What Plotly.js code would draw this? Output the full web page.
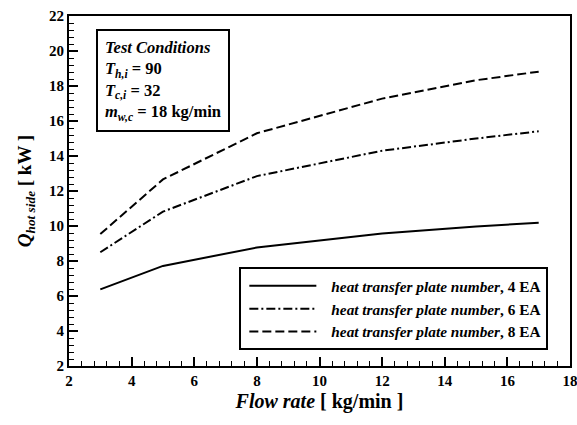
<!DOCTYPE html>
<html>
<head>
<meta charset="utf-8">
<script src="https://cdn.plot.ly/plotly-3.0.1.min.js"></script>
<style>html,body{margin:0;padding:0;background:#fff;}#chart{width:577px;height:425px;}</style>
</head>
<body>
<div id="chart"></div>
<script>
// Data
const flowRate = [3, 5, 8, 12, 15, 17];
const q4EA = [6.38, 7.72, 8.77, 9.57, 9.97, 10.19];
const q6EA = [8.5, 10.82, 12.85, 14.3, 15.0, 15.41];
const q8EA = [9.54, 12.66, 15.3, 17.28, 18.33, 18.82];
const seriesNames = [
  "<i>heat transfer plate number</i>, 4 EA",
  "<i>heat transfer plate number</i>, 6 EA",
  "<i>heat transfer plate number</i>, 8 EA"
];
const conditionsText = "<i>Test Conditions</i><br>" +
  "<i>T</i><sub><i>h,i</i></sub> = 90<br>" +
  "<i>T</i><sub><i>c,i</i></sub> = 32<br>" +
  "<i>m</i><sub><i>w,c</i></sub> = 18 kg/min";

const FONT = "Liberation Serif";

const traces = [
  {x: flowRate, y: q4EA, name: seriesNames[0], mode: "lines",
   line: {color: "#000", width: 2, dash: "solid"}},
  {x: flowRate, y: q6EA, name: seriesNames[1], mode: "lines",
   line: {color: "#000", width: 2, dash: "9px,3px,2px,3px"}},
  {x: flowRate, y: q8EA, name: seriesNames[2], mode: "lines",
   line: {color: "#000", width: 2, dash: "9px,4px"}}
];

const axisCommon = {
  showgrid: false, zeroline: false,
  showline: true, linecolor: "#000", linewidth: 2, mirror: true,
  ticks: "inside", ticklen: 9, tickwidth: 2, tickcolor: "#000",
  ticklabeloverflow: "allow",
  tickfont: {family: FONT, size: 15, color: "#000", weight: "bold"},
  minor: {ticks: "inside", ticklen: 5, tickwidth: 1, tickcolor: "#000", dtick: 0.4}
};

const layout = {
  width: 577, height: 425,
  margin: {l: 69, r: 7, t: 16, b: 59},
  paper_bgcolor: "#fff", plot_bgcolor: "#fff",
  font: {family: FONT, color: "#000", weight: "bold"},
  xaxis: Object.assign({}, axisCommon, {
    range: [2, 18], tick0: 2, dtick: 2,
    title: {text: "<i>Flow rate</i> [ kg/min ]", font: {family: FONT, size: 20, weight: "bold", color: "#000"}, standoff: 6}
  }),
  yaxis: Object.assign({}, axisCommon, {
    range: [2, 22], tick0: 2, dtick: 2,
    title: {text: "<i>Q</i><sub><i>hot side</i></sub> [ kW ]", font: {family: FONT, size: 19, weight: "bold", color: "#000"}, standoff: 12}
  }),
  showlegend: true,
  legend: {
    x: 0.34, y: 0.282, xanchor: "left", yanchor: "top",
    bgcolor: "#fff", bordercolor: "#000", borderwidth: 2,
    font: {family: FONT, size: 15.3, color: "#000", weight: "bold"},
    itemwidth: 80, tracegroupgap: 0
  },
  annotations: [{
    xref: "paper", yref: "paper", x: 0.053, y: 0.962,
    xanchor: "left", yanchor: "top", align: "left", showarrow: false,
    text: conditionsText,
    font: {family: FONT, size: 16.5, color: "#000", weight: "bold"},
    bordercolor: "#000", borderwidth: 2, borderpad: 7, bgcolor: "#fff"
  }]
};

const gd = document.getElementById("chart");
function stretchLegendLines() {
  gd.querySelectorAll(".legend .legendlines path").forEach(p => p.setAttribute("d", "M8,0h67"));
}
Plotly.newPlot(gd, traces, layout, {displayModeBar: false, staticPlot: true}).then(() => {
  stretchLegendLines();
  gd.on("plotly_afterplot", stretchLegendLines);
});
</script>
</body>
</html>
